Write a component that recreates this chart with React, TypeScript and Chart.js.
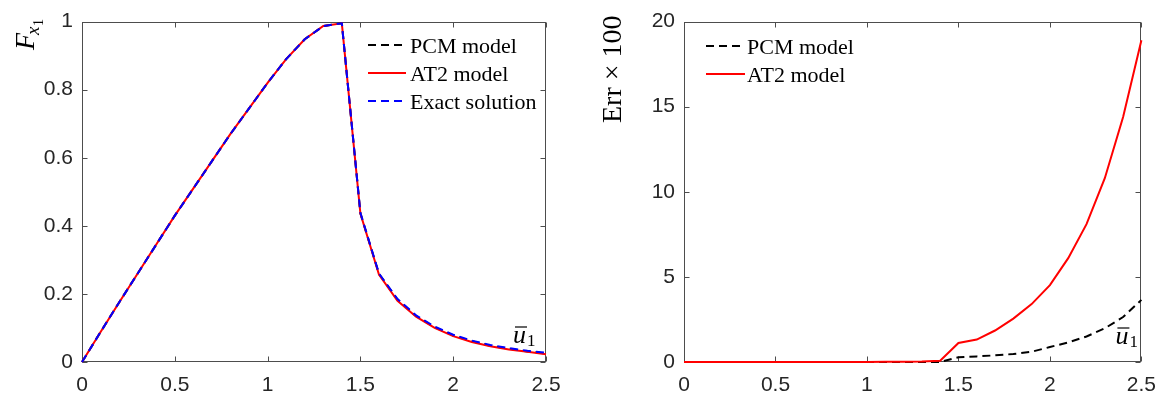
import React, { useEffect, useRef } from 'react';
import { Chart, registerables } from 'chart.js';

Chart.register(...registerables);

// ---------- data ----------
const uValues: number[] = [
  0, 0.1, 0.2, 0.3, 0.4, 0.5, 0.6, 0.7, 0.8, 0.9, 1.0, 1.1, 1.2,
  1.3, 1.4, 1.5, 1.6, 1.7, 1.8, 1.9, 2.0, 2.1, 2.2, 2.3, 2.4, 2.5,
];

const forcePCM: number[] = [
  0, 0.088, 0.175, 0.26, 0.345, 0.43, 0.51, 0.59, 0.67, 0.745, 0.82, 0.89, 0.948,
  0.987, 0.995, 0.437, 0.259, 0.183, 0.135, 0.102, 0.078, 0.061, 0.048, 0.039, 0.031, 0.025,
];
const forceAT2: number[] = [
  0, 0.088, 0.175, 0.26, 0.345, 0.43, 0.51, 0.59, 0.67, 0.745, 0.82, 0.89, 0.948,
  0.987, 0.995, 0.436, 0.257, 0.18, 0.133, 0.1, 0.076, 0.059, 0.046, 0.037, 0.03, 0.023,
];
const forceExact: number[] = [
  0, 0.088, 0.175, 0.26, 0.345, 0.43, 0.51, 0.59, 0.67, 0.745, 0.82, 0.89, 0.948,
  0.987, 0.995, 0.438, 0.26, 0.185, 0.137, 0.104, 0.08, 0.063, 0.05, 0.041, 0.033, 0.027,
];

const errPCM: number[] = [
  0, 0, 0, 0, 0, 0, 0, 0, 0, 0, 0, 0, 0,
  0, 0, 0.28, 0.33, 0.39, 0.47, 0.6, 0.88, 1.15, 1.5, 1.98, 2.64, 3.65,
];
const errAT2: number[] = [
  0, 0, 0, 0, 0, 0, 0, 0, 0, 0, 0, 0.01, 0.02,
  0.03, 0.07, 1.12, 1.32, 1.85, 2.55, 3.4, 4.52, 6.1, 8.1, 10.8, 14.4, 18.9,
];

const xTickValues: number[] = [0, 0.5, 1, 1.5, 2, 2.5];
const forceTickValues: number[] = [0, 0.2, 0.4, 0.6, 0.8, 1];
const errTickValues: number[] = [0, 5, 10, 15, 20];

// ---------- styles ----------
const RED = '#ff0000';
const BLUE = '#0000ff';
const BLACK = '#000000';
const FRAME = '#4d4d4d';
const TICK_TEXT = '#262626';
const SANS = '"Liberation Sans", Arial, sans-serif';
const SERIF = '"Liberation Serif", "Times New Roman", serif';
const DASH = [8, 5];

const toPoints = (ys: number[]) => uValues.map((x, i) => ({ x, y: ys[i] }));
const fmtTick = (v: any) => String(+Number(v).toFixed(3));

type LegendItem = { label: string; color: string; dash: number[]; lineEnd: number };

function drawUBar(ctx: CanvasRenderingContext2D, x: number, y: number) {
  ctx.fillStyle = BLACK;
  ctx.font = `italic 26px ${SERIF}`;
  ctx.textAlign = 'left';
  ctx.textBaseline = 'alphabetic';
  ctx.fillText('u', x, y);
  ctx.strokeStyle = BLACK;
  ctx.lineWidth = 1.2;
  ctx.beginPath();
  ctx.moveTo(x + 2, y - 16);
  ctx.lineTo(x + 14, y - 16);
  ctx.stroke();
  ctx.font = `17px ${SERIF}`;
  ctx.fillText('1', x + 14, y + 3);
}

function makeDecoPlugin(opts: {
  xTicks: number[];
  yTicks: number[];
  legend: LegendItem[];
  legendX: number;
  legendTextX: number;
  legendRows: number[];
  uOffsetX: number;
  uOffsetY: number;
  drawTitle: (ctx: CanvasRenderingContext2D) => void;
}) {
  return {
    id: 'deco',
    beforeDatasetsDraw(chart: any) {
      const { ctx, chartArea: a, scales } = chart;
      ctx.save();
      const L = Math.round(a.left) + 0.5;
      const R = Math.round(a.right) - 0.5;
      const T = Math.round(a.top) + 0.5;
      const B = Math.round(a.bottom) - 0.5;
      ctx.strokeStyle = FRAME;
      ctx.lineWidth = 1;
      ctx.setLineDash([]);
      ctx.strokeRect(L, T, R - L, B - T);
      const tl = 5;
      ctx.beginPath();
      opts.xTicks.forEach((v) => {
        const px = Math.round(scales.x.getPixelForValue(v)) + 0.5;
        ctx.moveTo(px, B);
        ctx.lineTo(px, B - tl);
        ctx.moveTo(px, T);
        ctx.lineTo(px, T + tl);
      });
      opts.yTicks.forEach((v) => {
        const py = Math.round(scales.y.getPixelForValue(v)) + 0.5;
        ctx.moveTo(L, py);
        ctx.lineTo(L + tl, py);
        ctx.moveTo(R, py);
        ctx.lineTo(R - tl, py);
      });
      ctx.stroke();
      ctx.restore();
    },
    afterDatasetsDraw(chart: any) {
      const { ctx, chartArea: a } = chart;
      ctx.save();
      opts.legend.forEach((item, i) => {
        const y = opts.legendRows[i];
        ctx.strokeStyle = item.color;
        ctx.lineWidth = 2;
        ctx.setLineDash(item.dash);
        ctx.beginPath();
        ctx.moveTo(opts.legendX, y);
        ctx.lineTo(item.lineEnd, y);
        ctx.stroke();
        ctx.setLineDash([]);
        ctx.fillStyle = BLACK;
        ctx.font = `22px ${SERIF}`;
        ctx.textAlign = 'left';
        ctx.textBaseline = 'alphabetic';
        ctx.fillText(item.label, opts.legendTextX, y + 8);
      });
      drawUBar(ctx, a.right - opts.uOffsetX, a.bottom - opts.uOffsetY);
      opts.drawTitle(ctx);
      ctx.restore();
    },
  };
}

function baseScales(yMin: number, yMax: number, yStep: number, yWidth: number) {
  const tickFont = { family: SANS, size: 21 };
  return {
    x: {
      type: 'linear',
      min: 0,
      max: 2.5,
      ticks: {
        stepSize: 0.5,
        padding: 11,
        color: TICK_TEXT,
        font: tickFont,
        maxRotation: 0,
        autoSkip: false,
        callback: fmtTick,
      },
      grid: { display: false, drawTicks: false },
      border: { display: false },
      afterFit: (s: any) => {
        s.height = 37;
      },
    },
    y: {
      type: 'linear',
      min: yMin,
      max: yMax,
      ticks: { stepSize: yStep, padding: 9, color: TICK_TEXT, font: tickFont, callback: fmtTick },
      grid: { display: false, drawTicks: false },
      border: { display: false },
      afterFit: (s: any) => {
        s.width = yWidth;
      },
    },
  };
}

function lineDs(label: string, data: number[], color: string, dash: number[], order: number) {
  return {
    label,
    data: toPoints(data),
    borderColor: color,
    backgroundColor: color,
    borderWidth: 2,
    borderDash: dash,
    pointRadius: 0,
    tension: 0,
    fill: false,
    clip: false,
    order,
  };
}

export default function App() {
  const refA = useRef<HTMLCanvasElement>(null);
  const refB = useRef<HTMLCanvasElement>(null);

  useEffect(() => {
    const pluginA = makeDecoPlugin({
      xTicks: xTickValues,
      yTicks: forceTickValues,
      legend: [
        { label: 'PCM model', color: BLACK, dash: DASH, lineEnd: 402 },
        { label: 'AT2 model', color: RED, dash: [], lineEnd: 406 },
        { label: 'Exact solution', color: BLUE, dash: DASH, lineEnd: 402 },
      ],
      legendX: 368,
      legendTextX: 410,
      legendRows: [45, 73, 101],
      uOffsetX: 33,
      uOffsetY: 19,
      drawTitle: (ctx) => {
        ctx.save();
        ctx.translate(34, 50);
        ctx.rotate(-Math.PI / 2);
        ctx.fillStyle = BLACK;
        ctx.textAlign = 'left';
        ctx.textBaseline = 'alphabetic';
        ctx.font = `italic 28px ${SERIF}`;
        ctx.fillText('F', 0, 0);
        ctx.font = `italic 19px ${SERIF}`;
        ctx.fillText('x', 15, 5);
        ctx.font = `14px ${SERIF}`;
        ctx.fillText('1', 24, 9);
        ctx.restore();
      },
    });

    const pluginB = makeDecoPlugin({
      xTicks: xTickValues,
      yTicks: errTickValues,
      legend: [
        { label: 'PCM model', color: BLACK, dash: DASH, lineEnd: 740 - 583 },
        { label: 'AT2 model', color: RED, dash: [], lineEnd: 745 - 583 },
      ],
      legendX: 706 - 583,
      legendTextX: 747 - 583,
      legendRows: [46, 74],
      uOffsetX: 26,
      uOffsetY: 18,
      drawTitle: (ctx) => {
        ctx.save();
        ctx.translate(621 - 583, 123);
        ctx.rotate(-Math.PI / 2);
        ctx.fillStyle = BLACK;
        ctx.textAlign = 'left';
        ctx.textBaseline = 'alphabetic';
        ctx.font = `28px ${SERIF}`;
        ctx.fillText('Err \u00d7 100', 0, 0);
        ctx.restore();
      },
    });

    const chartA = new Chart(refA.current as HTMLCanvasElement, {
      type: 'line',
      data: {
        datasets: [
          lineDs('PCM model', forcePCM, BLACK, DASH, 2),
          lineDs('AT2 model', forceAT2, RED, [], 1),
          lineDs('Exact solution', forceExact, BLUE, DASH, 0),
        ],
      } as any,
      options: {
        responsive: false,
        animation: false,
        devicePixelRatio: 1,
        layout: { padding: { left: 0, top: 17, right: 37, bottom: 0 } },
        plugins: { legend: { display: false }, tooltip: { enabled: false } },
        scales: baseScales(0, 1, 0.2, 82) as any,
      },
      plugins: [pluginA],
    } as any);

    const chartB = new Chart(refB.current as HTMLCanvasElement, {
      type: 'line',
      data: {
        datasets: [
          lineDs('PCM model', errPCM, BLACK, DASH, 1),
          lineDs('AT2 model', errAT2, RED, [], 0),
        ],
      } as any,
      options: {
        responsive: false,
        animation: false,
        devicePixelRatio: 1,
        layout: { padding: { left: 0, top: 18, right: 16, bottom: 0 } },
        plugins: { legend: { display: false }, tooltip: { enabled: false } },
        scales: baseScales(0, 20, 5, 101) as any,
      },
      plugins: [pluginB],
    } as any);

    return () => {
      chartA.destroy();
      chartB.destroy();
    };
  }, []);

  return (
    <div style={{ position: 'fixed', left: 0, top: 0, width: 1167, height: 399, background: '#ffffff' }}>
      <canvas
        ref={refA}
        width={583}
        height={399}
        style={{ position: 'absolute', left: 0, top: 0, width: 583, height: 399 }}
      />
      <canvas
        ref={refB}
        width={584}
        height={399}
        style={{ position: 'absolute', left: 583, top: 0, width: 584, height: 399 }}
      />
    </div>
  );
}
